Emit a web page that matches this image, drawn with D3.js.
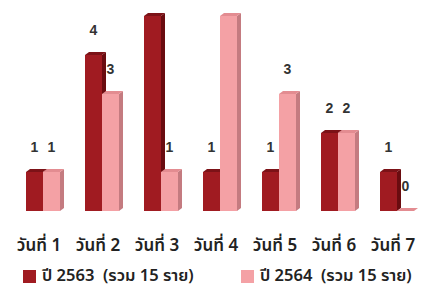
<html>
<head>
<meta charset="utf-8">
<script src="https://d3js.org/d3.v7.min.js"></script>
<style>
    body { margin: 0; background: #fff; }
    .val { font-family: "Liberation Sans", Arial, sans-serif; font-size: 14px; font-weight: bold; fill: #333; }
    .cat { font-family: Tahoma, "Noto Sans Thai", "Noto Sans", sans-serif; font-size: 17px; font-weight: 600; fill: #222; }
    .leg { font-family: Tahoma, "Noto Sans Thai", "Noto Sans", sans-serif; font-size: 16.5px; font-weight: 600; fill: #222; }
</style>
</head>
<body>
<svg id="chart" width="444" height="289"></svg>
<script>
// data
var days = ["วันที่ 1", "วันที่ 2", "วันที่ 3", "วันที่ 4", "วันที่ 5", "วันที่ 6", "วันที่ 7"];
var seriesNames = ["ปี 2563  (รวม 15 ราย)", "ปี 2564  (รวม 15 ราย)"];
var y2563 = [1, 4, 5, 1, 1, 2, 1];
var y2564 = [1, 3, 1, 5, 3, 2, 0];

var colors = [
    { front: "#a01b21", side: "#6a0c10", top: "#7c1217" },
    { front: "#f4a1a5", side: "#c47b80", top: "#e38c91" }
];
var dx = 4, dy = 3;

var svg = d3.select("#chart");

var x0 = d3.scaleBand().domain(days).range([26, 414]).paddingInner(25 / 59).paddingOuter(0);
var x1 = d3.scaleBand().domain([0, 1]).range([0, x0.bandwidth()]);
var y = d3.scaleLinear().domain([0, 5]).range([211, 16]);

var rows = days.map(function(d, i) {
    return { day: d, vals: [y2563[i], y2564[i]] };
});

var groups = svg.selectAll(".grp")
    .data(rows)
    .enter().append("g")
    .attr("class", "grp")
    .attr("transform", function(d) { return "translate(" + x0(d.day) + ",0)"; });

groups.each(function(row) {
    var g = d3.select(this);
    row.vals.forEach(function(v, s) {
        var x = x1(s), w = x1.bandwidth(), top = y(v), base = y(0);
        var c = colors[s];
        // side face
        g.append("polygon")
            .attr("points", [[x + w, top], [x + w + dx, top - dy], [x + w + dx, base - dy], [x + w, base]].join(" "))
            .attr("fill", c.side);
        // front face
        g.append("rect")
            .attr("x", x).attr("y", top)
            .attr("width", w).attr("height", base - top)
            .attr("fill", c.front);
        // top face
        g.append("polygon")
            .attr("points", [[x, top], [x + dx, top - dy], [x + w + dx, top - dy], [x + w, top]].join(" "))
            .attr("fill", c.top);
    });
    row.vals.forEach(function(v, s) {
        g.append("text")
            .attr("class", "val")
            .attr("x", x1(s) + x1.bandwidth() / 2)
            .attr("y", y(v) - 20)
            .attr("text-anchor", "middle")
            .text(v);
    });
});

// category labels
svg.selectAll(".cat")
    .data(days)
    .enter().append("text")
    .attr("class", "cat")
    .attr("x", function(d) { return x0(d) + x0.bandwidth() / 2 - 4; })
    .attr("y", 251)
    .attr("text-anchor", "middle")
    .text(function(d) { return d; });

// legend
var legX = [23, 241];
var leg = svg.selectAll(".legitem")
    .data(seriesNames)
    .enter().append("g")
    .attr("class", "legitem")
    .attr("transform", function(d, i) { return "translate(" + legX[i] + ",270)"; });

leg.append("rect")
    .attr("width", 13).attr("height", 13)
    .attr("fill", function(d, i) { return colors[i].front; });

leg.append("text")
    .attr("class", "leg")
    .attr("x", 19)
    .attr("y", 11)
    .style("white-space", "pre")
    .text(function(d) { return d; });
</script>
</body>
</html>
